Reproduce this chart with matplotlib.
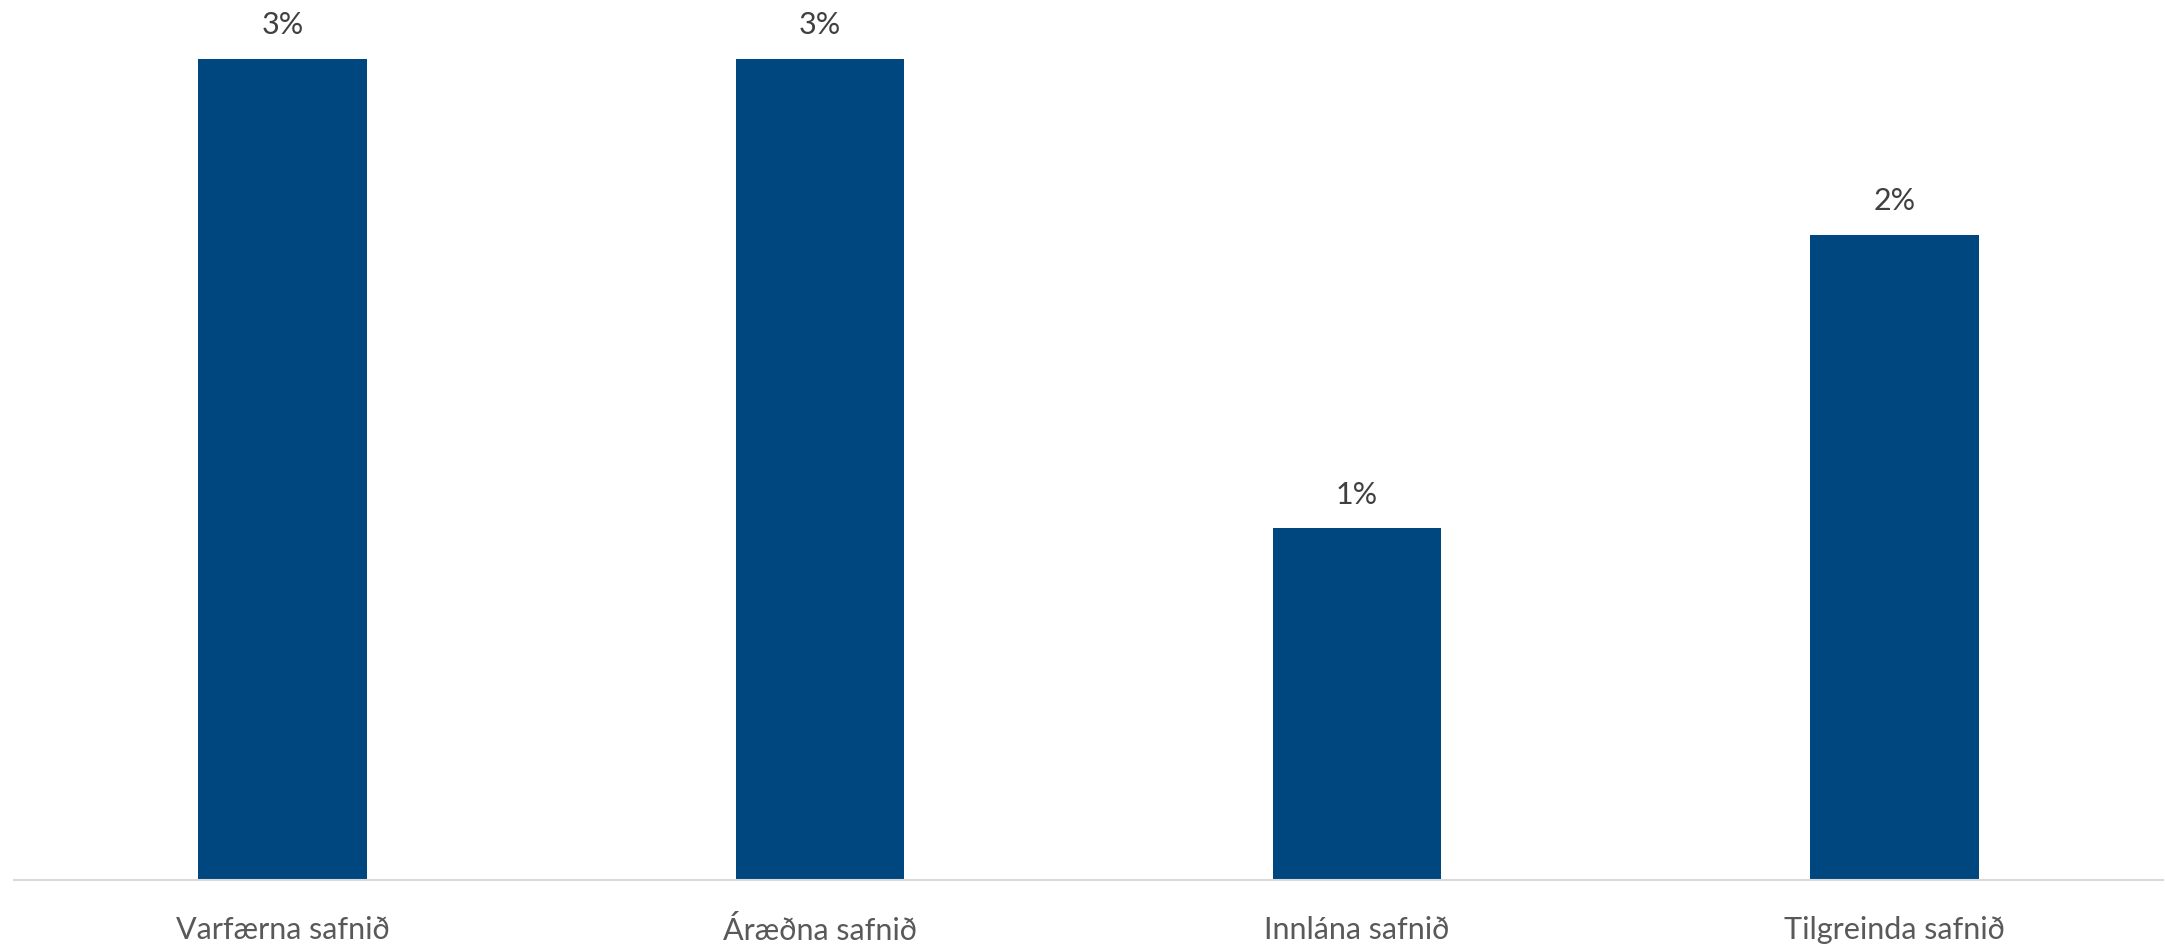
import matplotlib.pyplot as plt

# data
categories = ['Varfærna safnið', 'Áræðna safnið', 'Innlána safnið', 'Tilgreinda safnið']
values = [0.028, 0.028, 0.012, 0.022]
labels = ['3%', '3%', '1%', '2%']

plt.rcParams['font.family'] = ['Lato', 'DejaVu Sans']

fig = plt.figure(figsize=(21.65, 9.48), dpi=100)
ax = fig.add_axes([14 / 2165, 68 / 948, 2149 / 2165, 880 / 948])

x = range(len(categories))
bars = ax.bar(x, values, width=0.314, color='#00467F')

for b, lab in zip(bars, labels):
    ax.annotate(lab, (b.get_x() + b.get_width() / 2, b.get_height()),
                xytext=(0, 14), textcoords='offset points',
                ha='center', va='bottom', fontsize=22, color='#404040')

ax.set_xlim(-0.5, len(categories) - 0.5)
ax.set_ylim(0, 0.03)
ax.set_xticks(list(x))
ax.set_xticklabels(categories, fontsize=22, color='#595959')
ax.tick_params(axis='x', length=0, pad=26)
ax.set_yticks([])
for s in ['top', 'right', 'left']:
    ax.spines[s].set_visible(False)
ax.spines['bottom'].set_color('#D9D9D9')
ax.spines['bottom'].set_linewidth(1.5)

fig.savefig('out.png', dpi=100)
